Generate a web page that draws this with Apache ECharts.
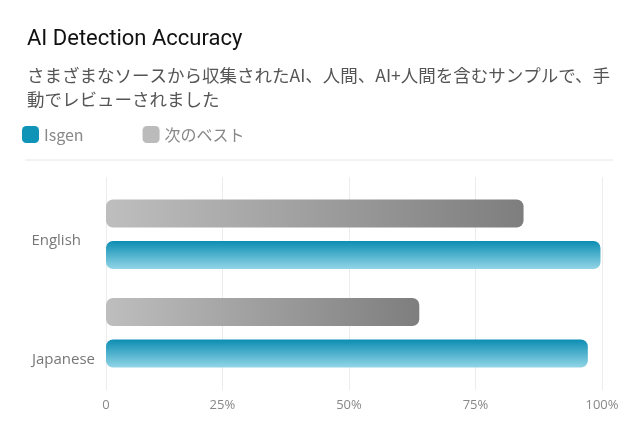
<!DOCTYPE html>
<html lang="ja">
<head>
    <meta charset="UTF-8">
    <title>AI Detection Accuracy</title>
    <script src="https://cdn.jsdelivr.net/npm/echarts@6/dist/echarts.min.js"></script>
    <style>
        html, body { margin: 0; padding: 0; background: #fff; }
        #chart { width: 640px; height: 437px; }
    </style>
</head>
<body>
<div id="chart"></div>
<script>
    // データ
    var categories = ['English', 'Japanese'];
    var seriesNames = ['Isgen', '次のベスト'];
    var isgenValues = [99.7, 97.2];
    var nextBestValues = [84.5, 63.9];
    // 目盛り（左端の目盛りは「0」と表示される）
    var axisMin = 2;
    var axisMax = 100;
    var xTicks = [2, 25, 50, 75, 100];

    var titleText = 'AI Detection Accuracy';
    var subText = 'さまざまなソースから収集されたAI、人間、AI+人間を含むサンプルで、手\n動でレビューされました';

    var tealGrad = new echarts.graphic.LinearGradient(0, 0, 0, 1, [
        {offset: 0, color: '#0c8db3'},
        {offset: 1, color: '#92d5e6'}
    ]);
    var grayGrad = new echarts.graphic.LinearGradient(0, 0, 1, 0, [
        {offset: 0, color: '#bebebe'},
        {offset: 1, color: '#7e7e7e'}
    ]);

    var myChart = echarts.init(document.getElementById('chart'));
    var option = {
        backgroundColor: '#fff',
        animation: false,
        title: [
            {
                text: titleText, left: 27, top: 28, padding: 0,
                textStyle: {fontFamily: 'Roboto', fontSize: 22, fontWeight: 'normal', color: '#111'}
            },
            {
                text: subText, left: 27, top: 63, padding: 0,
                textStyle: {fontFamily: 'Noto Sans CJK JP', fontSize: 17.5, fontWeight: 'normal', color: '#555', lineHeight: 24}
            }
        ],
        legend: {
            left: 22, top: 126, padding: 0,
            itemWidth: 17, itemHeight: 17, itemGap: 59,
            icon: 'roundRect',
            data: [
                {name: seriesNames[0], itemStyle: {color: '#0f94b8'}},
                {name: seriesNames[1], itemStyle: {color: '#bbbbbb'}}
            ],
            textStyle: {fontFamily: 'Noto Sans CJK JP', fontSize: 16, color: '#888'}
        },
        graphic: [{
            type: 'line', shape: {x1: 25, y1: 160, x2: 613, y2: 160},
            style: {stroke: '#e6e6e6', lineWidth: 1}, silent: true
        }],
        grid: [
            {left: 106, right: 38, top: 185, bottom: 55},
            {left: 106, right: 38, top: 177, bottom: 47}
        ],
        xAxis: [
            {type: 'value', gridIndex: 0, min: axisMin, max: axisMax, show: false},
            {
                type: 'value', gridIndex: 1, min: axisMin, max: axisMax,
                axisLine: {show: false},
                axisTick: {show: false, customValues: xTicks},
                splitLine: {lineStyle: {color: '#ececec'}},
                axisLabel: {
                    customValues: xTicks,
                    margin: 9, color: '#888', fontSize: 13, fontFamily: 'Open Sans',
                    formatter: function (v) { return v === axisMin ? '0' : v + '%'; }
                }
            }
        ],
        yAxis: [
            {
                type: 'category', gridIndex: 0, data: categories, inverse: true,
                axisLine: {show: false}, axisTick: {show: false}, splitLine: {show: false},
                axisLabel: {
                    margin: 11, align: 'right',
                    formatter: function (v) { return v === 'English' ? '{e|' + v + '}' : '{j|' + v + '}'; },
                    rich: {
                        e: {color: '#777', fontSize: 15, fontFamily: 'Open Sans', padding: [13, 14, 0, 0]},
                        j: {color: '#777', fontSize: 15, fontFamily: 'Open Sans', padding: [54, 0, 0, 0]}
                    }
                }
            },
            {type: 'value', gridIndex: 1, show: false, min: 0, max: 1}
        ],
        series: [
            {
                name: seriesNames[1], type: 'bar', xAxisIndex: 0, yAxisIndex: 0,
                data: nextBestValues, barWidth: 28, barGap: '48%',
                itemStyle: {color: grayGrad, borderRadius: 7}
            },
            {
                name: seriesNames[0], type: 'bar', xAxisIndex: 0, yAxisIndex: 0,
                data: isgenValues, barWidth: 28, barGap: '48%',
                itemStyle: {color: tealGrad, borderRadius: 7}
            }
        ]
    };
    myChart.setOption(option);
</script>
</body>
</html>
